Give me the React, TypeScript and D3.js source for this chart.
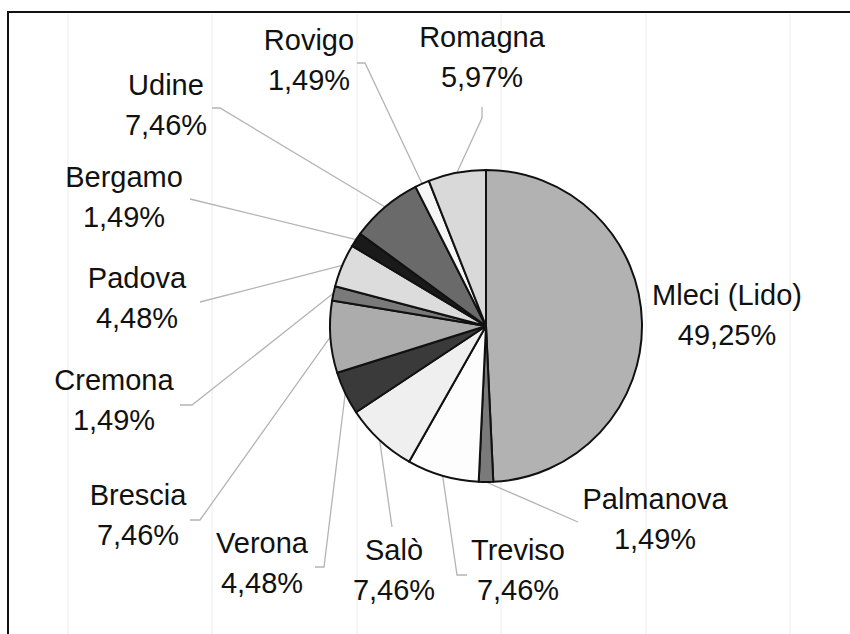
import React from "react";
import * as d3 from "d3";

const categories = ["Mleci (Lido)", "Palmanova", "Treviso", "Salò", "Verona", "Brescia", "Cremona", "Padova", "Bergamo", "Udine", "Rovigo", "Romagna"];
const counts = [33, 1, 5, 5, 3, 5, 1, 3, 1, 5, 1, 4];
const percentLabels = ["49,25%", "1,49%", "7,46%", "7,46%", "4,48%", "7,46%", "1,49%", "4,48%", "1,49%", "7,46%", "1,49%", "5,97%"];

const fills = ["#b2b2b2", "#7a7a7a", "#fdfdfd", "#efefef", "#3a3a3a", "#acacac", "#7a7a7a", "#dcdcdc", "#1a1a1a", "#6a6a6a", "#f6f6f6", "#d9d9d9"];

// label layout: text block centre x, first baseline y, leader points (before pie edge)
const labelLayout: { cx: number; y: number; leader: [number, number][] }[] = [
  { cx: 727, y: 305, leader: [] },
  { cx: 655, y: 509, leader: [[578, 522]] },
  { cx: 518, y: 560, leader: [[467, 575], [457, 575]] },
  { cx: 394, y: 560, leader: [[392, 527]] },
  { cx: 262, y: 553, leader: [[315, 567], [324, 567]] },
  { cx: 138, y: 505, leader: [[190, 520], [200, 520]] },
  { cx: 114, y: 390, leader: [[180, 405], [192, 405]] },
  { cx: 137, y: 288, leader: [[200, 302]] },
  { cx: 124, y: 187, leader: [[190, 199]] },
  { cx: 166, y: 95, leader: [[212, 108], [220, 108]] },
  { cx: 309, y: 50, leader: [[357, 63], [365, 63]] },
  { cx: 482, y: 47, leader: [[482, 107], [482, 118]] },
];

const gridXs = [68, 212, 357, 501, 646, 790];

const W = 850;
const H = 634;
const CX = 486;
const CY = 326;
const R = 156;

export default function App() {
  const pie = d3.pie<number>().sort(null).value((d) => d).startAngle(0).endAngle(2 * Math.PI);
  const arcs = pie(counts);
  const arcGen = d3.arc<d3.PieArcDatum<number>>().innerRadius(0).outerRadius(R);

  return (
    <svg width={W} height={H} style={{ position: "absolute", left: 0, top: 0, background: "#fff" }}
      fontFamily="'Liberation Sans', Arial, sans-serif">
      <rect x={0} y={0} width={W} height={H} fill="#fff" />
      {gridXs.map((x, i) => (
        <line key={i} x1={x} x2={x} y1={14} y2={H} stroke="#ececec" strokeWidth={1} />
      ))}
      <line x1={8} x2={W} y1={12} y2={12} stroke="#111" strokeWidth={2} />
      <line x1={8} x2={8} y1={11} y2={H} stroke="#111" strokeWidth={2} />

      {arcs.map((a, i) => {
        const lay = labelLayout[i];
        if (!lay.leader.length) return null;
        const mid = (a.startAngle + a.endAngle) / 2;
        const ex = CX + R * Math.sin(mid);
        const ey = CY - R * Math.cos(mid);
        const pts = [...lay.leader, [ex, ey]] as [number, number][];
        return (
          <polyline key={"l" + i} points={pts.map((p) => p.join(",")).join(" ")}
            fill="none" stroke="#b4b4b4" strokeWidth={1.3} />
        );
      })}

      <g transform={`translate(${CX},${CY})`}>
        {arcs.map((a, i) => (
          <path key={i} d={arcGen(a) || ""} fill={fills[i]} stroke="#111" strokeWidth={2} strokeLinejoin="round" />
        ))}
      </g>

      {categories.map((c, i) => {
        const lay = labelLayout[i];
        return (
          <text key={"t" + i} x={lay.cx} y={lay.y} textAnchor="middle" fontSize={29} fill="#111">
            <tspan x={lay.cx}>{c}</tspan>
            <tspan x={lay.cx} dy={40}>{percentLabels[i]}</tspan>
          </text>
        );
      })}
    </svg>
  );
}
